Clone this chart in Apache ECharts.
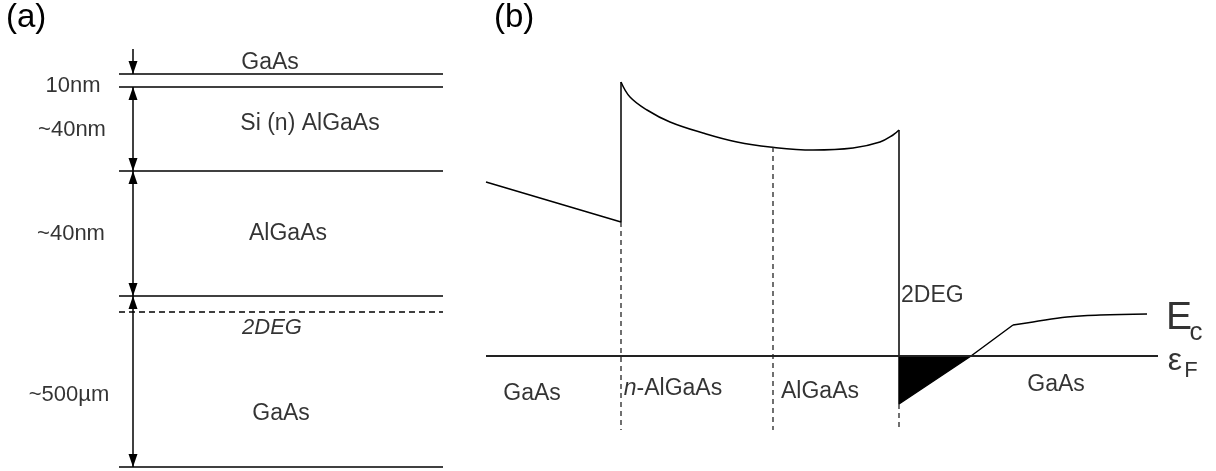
<!DOCTYPE html>
<html>
<head>
<meta charset="utf-8">
<script src="https://cdn.jsdelivr.net/npm/echarts@6/dist/echarts.min.js"></script>
<style>
  html, body { margin: 0; padding: 0; background: #fff; }
  #chart { width: 1216px; height: 471px; }
</style>
</head>
<body>
<div id="chart"></div>
<script>
// ---- panel (a): layer stack (schematic depth, not to scale) ----
const layerEdges = [74, 87, 171, 296, 467]
const layerXRange = [119, 443]
const channelDepth = 312
const arrowX = 133
const arrowSpans = [[49, 74, false], [87, 171, true], [171, 296, true], [296, 467, true]]
const layerLabels = [
  ['GaAs', 270, 63], ['Si (n) AlGaAs', 310, 124], ['AlGaAs', 288, 234], ['GaAs', 281, 414]
]
const thicknessLabels = [
  ['10nm', 73, 86], ['~40nm', 72, 130], ['~40nm', 71, 234], ['~500µm', 69, 395]
]

// ---- panel (b): conduction band edge, energy relative to Fermi level ----
const ecLeft = [[0, 174], [135, 134], [135, 274]]
const ecBarrier = [[135, 274], [144, 259], [161, 246], [184, 234], [217, 223], [251, 214],
  [284, 209], [327, 206], [367, 208], [394, 214], [407, 221], [413, 226]]
const ecDrop = [[413, 226], [413, -48], [485, 0], [527, 31]]
const ecGaAs = [[527, 31], [547, 34], [581, 39], [614, 41], [661, 42]]
const wellFill = [[413, -48], [485, 0]]
const fermiLevel = [[0, 0], [672, 0]]
const interfaceX = [135, 287, 413]
const interfaceTop = [134, 209, -48]
const interfaceBottom = -74
const bandLabels = [
  ['GaAs', 46, -38], ['AlGaAs', 334, -36], ['GaAs', 570, -29]
]

const chart = echarts.init(document.getElementById('chart'))
const font = '"Liberation Sans", Arial, sans-serif'
const ink = '#000'

function seg (data, grid, extra) {
  return Object.assign({
    type: 'line',
    xAxisIndex: grid,
    yAxisIndex: grid,
    data: data,
    symbol: 'none',
    silent: true,
    animation: false,
    lineStyle: { color: ink, width: 1.5 }
  }, extra || {})
}

function textSeries (grid, items, style) {
  return {
    type: 'scatter',
    xAxisIndex: grid,
    yAxisIndex: grid,
    symbolSize: 0,
    silent: true,
    animation: false,
    clip: false,
    data: items.map(d => ({ value: [d[1], d[2]], name: d[0] })),
    label: Object.assign({
      show: true,
      position: 'inside',
      formatter: p => p.name,
      color: ink,
      fontFamily: font,
      fontSize: 23,
      align: 'center',
      verticalAlign: 'middle'
    }, style || {})
  }
}

const series = []

// (a) layer boundaries
layerEdges.forEach(y => {
  series.push(seg([[layerXRange[0], y], [layerXRange[1], y]], 0))
})
series.push(seg([[layerXRange[0], channelDepth], [layerXRange[1], channelDepth]], 0, {
  lineStyle: { color: ink, width: 1.3, type: [6, 4] }
}))
// (a) thickness arrows
series.push({
  type: 'line',
  xAxisIndex: 0,
  yAxisIndex: 0,
  data: [],
  silent: true,
  animation: false,
  markLine: {
    silent: true,
    animation: false,
    symbol: ['triangle', 'triangle'],
    symbolSize: [9, 13],
    symbolOffset: [[0, 6.5], [0, 6.5]],
    label: { show: false },
    lineStyle: { color: ink, width: 1.5, type: 'solid' },
    data: arrowSpans.map(s => [
      { coord: [arrowX, s[0]], symbol: s[2] ? 'triangle' : 'none' },
      { coord: [arrowX, s[1]] }
    ])
  }
})
series.push(textSeries(0, layerLabels))
series.push(textSeries(0, thicknessLabels, { fontSize: 22 }))
series.push(textSeries(0, [['2DEG', 272, 328]], { fontStyle: 'italic', fontSize: 22 }))

// (b) band edge
series.push(seg(ecLeft, 1))
series.push(seg(ecBarrier, 1, { smooth: 0.4 }))
series.push(seg(ecDrop, 1))
series.push(seg(ecGaAs, 1, { smooth: 0.4 }))
series.push(seg(wellFill, 1, {
  lineStyle: { width: 0 },
  areaStyle: { color: '#000', opacity: 1, origin: 0 }
}))
series.push(seg(fermiLevel, 1, { lineStyle: { color: '#222', width: 2 } }))
interfaceX.forEach((x, i) => {
  series.push(seg([[x, interfaceTop[i]], [x, interfaceBottom]], 1, {
    lineStyle: { color: '#222', width: 1.3, type: [5, 4] }
  }))
})
series.push(textSeries(1, bandLabels))
series.push(textSeries(1, [['n-AlGaAs', 187, -33]], {
  formatter: () => '{i|n}-AlGaAs',
  rich: { i: { fontStyle: 'italic', fontFamily: font, fontSize: 23, color: ink } }
}))
series.push(textSeries(1, [['2DEG', 415, 60]], { align: 'left' }))
series.push(textSeries(1, [['E', 693, 38]], { fontSize: 39 }))
series.push(textSeries(1, [['c', 710, 23]], { fontSize: 26 }))
series.push(textSeries(1, [['ε', 689, -5]], { fontSize: 32 }))
series.push(textSeries(1, [['F', 705, -15]], { fontSize: 22 }))

chart.setOption({
  backgroundColor: '#fff',
  animation: false,
  grid: [
    { left: 0, top: 0, width: 460, height: 471 },
    { left: 486, top: 76, width: 730, height: 380 }
  ],
  xAxis: [
    { gridIndex: 0, type: 'value', min: 0, max: 460, show: false },
    { gridIndex: 1, type: 'value', min: 0, max: 730, show: false }
  ],
  yAxis: [
    { gridIndex: 0, type: 'value', min: 0, max: 471, inverse: true, show: false },
    { gridIndex: 1, type: 'value', min: -100, max: 280, show: false }
  ],
  graphic: [
    { type: 'text', left: 6, top: 1, style: { text: '(a)', font: '33px ' + font, fill: ink } },
    { type: 'text', left: 494, top: 1, style: { text: '(b)', font: '33px ' + font, fill: ink } }
  ],
  series: series
})
</script>
</body>
</html>
